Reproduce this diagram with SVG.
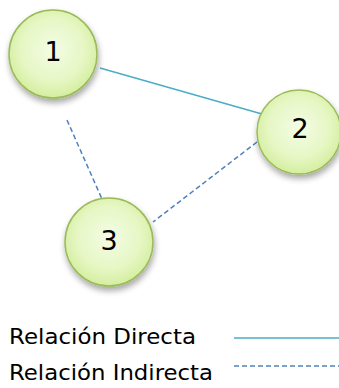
<svg xmlns="http://www.w3.org/2000/svg" width="339" height="388" viewBox="0 0 339 388">
<defs>
<radialGradient id="g" cx="0.5" cy="0.45" r="0.6">
<stop offset="0" stop-color="#f4fce6"/>
<stop offset="0.6" stop-color="#e6f7c4"/>
<stop offset="1" stop-color="#cfeb95"/>
</radialGradient>
<filter id="sh" x="-30%" y="-30%" width="160%" height="160%">
<feGaussianBlur in="SourceAlpha" stdDeviation="3"/>
<feOffset dx="1" dy="4" result="b"/>
<feComponentTransfer><feFuncA type="linear" slope="0.35"/></feComponentTransfer>
<feMerge><feMergeNode/><feMergeNode in="SourceGraphic"/></feMerge>
</filter>
<style>
.node{fill:url(#g);stroke:#9bbb59;stroke-width:1.5;filter:url(#sh)}
.num{font-family:"DejaVu Sans",sans-serif;font-size:27px;fill:#000;text-anchor:middle}
.lbl{font-family:"DejaVu Sans",sans-serif;font-size:22px;fill:#000}
.direct{stroke:#4bacc6;stroke-width:1.5;fill:none}
.indirect{stroke:#4f81bd;stroke-width:1.5;fill:none;stroke-dasharray:5,3}
</style>
</defs>
<rect width="339" height="388" fill="#fff"/>
<g id="connectors">
<line class="direct" x1="100" y1="68" x2="262" y2="114"/>
<line class="indirect" x1="67" y1="120" x2="102" y2="199"/>
<line class="indirect" x1="257" y1="142" x2="153" y2="222"/>
</g>
<g id="node1">
<circle class="node" cx="53" cy="54" r="44"/>
<text class="num" x="53" y="61">1</text>
</g>
<g id="node2">
<circle class="node" cx="299" cy="132" r="42"/>
<text class="num" x="300" y="138">2</text>
</g>
<g id="node3">
<circle class="node" cx="109" cy="242" r="44"/>
<text class="num" x="109" y="250">3</text>
</g>
<g id="legend">
<text class="lbl" x="9" y="344" textLength="187" lengthAdjust="spacingAndGlyphs">Relación Directa</text>
<text class="lbl" x="9" y="380" textLength="204" lengthAdjust="spacingAndGlyphs">Relación Indirecta</text>
<line class="direct" x1="234" y1="338" x2="339" y2="338"/>
<line class="indirect" x1="234" y1="366" x2="339" y2="366"/>
</g>
</svg>
